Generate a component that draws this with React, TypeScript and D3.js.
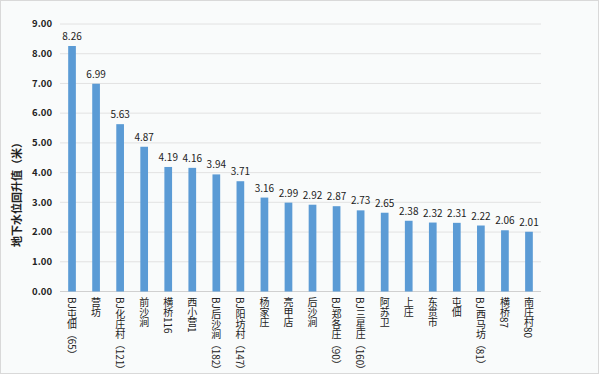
import React from "react";
import * as d3 from "d3";

const categories: string[] = [
  "BJ屯佃（65）", "营坊", "BJ化庄村（121）", "前沙涧", "横桥116", "西小营1",
  "BJ后沙涧（182）", "BJ阳坊村（147）", "杨家庄", "亮甲店", "后沙涧",
  "BJ郑各庄（90）", "BJ三星庄（160）", "阿苏卫", "上庄", "东贯市", "屯佃",
  "BJ西马坊（81）", "横桥87", "南庄村80",
];
const values: number[] = [
  8.26, 6.99, 5.63, 4.87, 4.19, 4.16, 3.94, 3.71, 3.16, 2.99, 2.92, 2.87,
  2.73, 2.65, 2.38, 2.32, 2.31, 2.22, 2.06, 2.01,
];
const yTicks: number[] = [0, 1, 2, 3, 4, 5, 6, 7, 8, 9];
const yTitle = "地下水位回升值（米）";

const W = 600;
const H = 375;
const left = 60;
const right = 541;
const top = 24;
const bottom = 291.5;
const FONT = "'Noto Sans CJK SC', 'Noto Sans', sans-serif";

export default function App() {
  const x = d3.scaleBand<string>().domain(categories).range([left, right]).paddingInner(0.68).paddingOuter(0.34);
  const y = d3.scaleLinear().domain([0, 9]).range([bottom, top]);
  const data = categories.map((c, i) => ({ c, v: values[i] }));
  return (
    <svg width={W} height={H} style={{ position: "absolute", left: 0, top: 0 }}>
      <rect x={0.5} y={0.5} width={W - 2} height={H - 2} fill="#f9fbfb" stroke="#d9d9d9" />
      {yTicks.map((t) => (
        <g key={t}>
          <line x1={left} x2={right} y1={y(t)} y2={y(t)} stroke={t === 0 ? "#d0d0d0" : "#e2e2e2"} strokeWidth={1} />
          <text x={52} y={y(t)} dy="0.35em" textAnchor="end" fontFamily={FONT} fontSize={9.5} fontWeight="bold" fill="#222">
            {t.toFixed(2)}
          </text>
        </g>
      ))}
      {data.map((d) => (
        <g key={d.c}>
          <rect x={x(d.c)!} y={y(d.v)} width={x.bandwidth()} height={y(0) - y(d.v)} fill="#5b9bd5" />
          <text x={x(d.c)! + x.bandwidth() / 2} y={y(d.v) - 6} textAnchor="middle" fontFamily={FONT} fontSize={10} fill="#222">
            {d.v.toFixed(2)}
          </text>
          <text
            x={x(d.c)! + x.bandwidth() / 2}
            y={297}
            fontFamily={FONT}
            fontSize={10}
            fill="#222"
            style={{ writingMode: "vertical-rl" }}
          >
            {d.c}
          </text>
        </g>
      ))}
      <text
        transform={`translate(17,192) rotate(-90)`}
        textAnchor="middle"
        dy="0.35em"
        fontFamily={FONT}
        fontSize={11}
        fontWeight="bold"
        fill="#222"
      >
        {yTitle}
      </text>
    </svg>
  );
}
